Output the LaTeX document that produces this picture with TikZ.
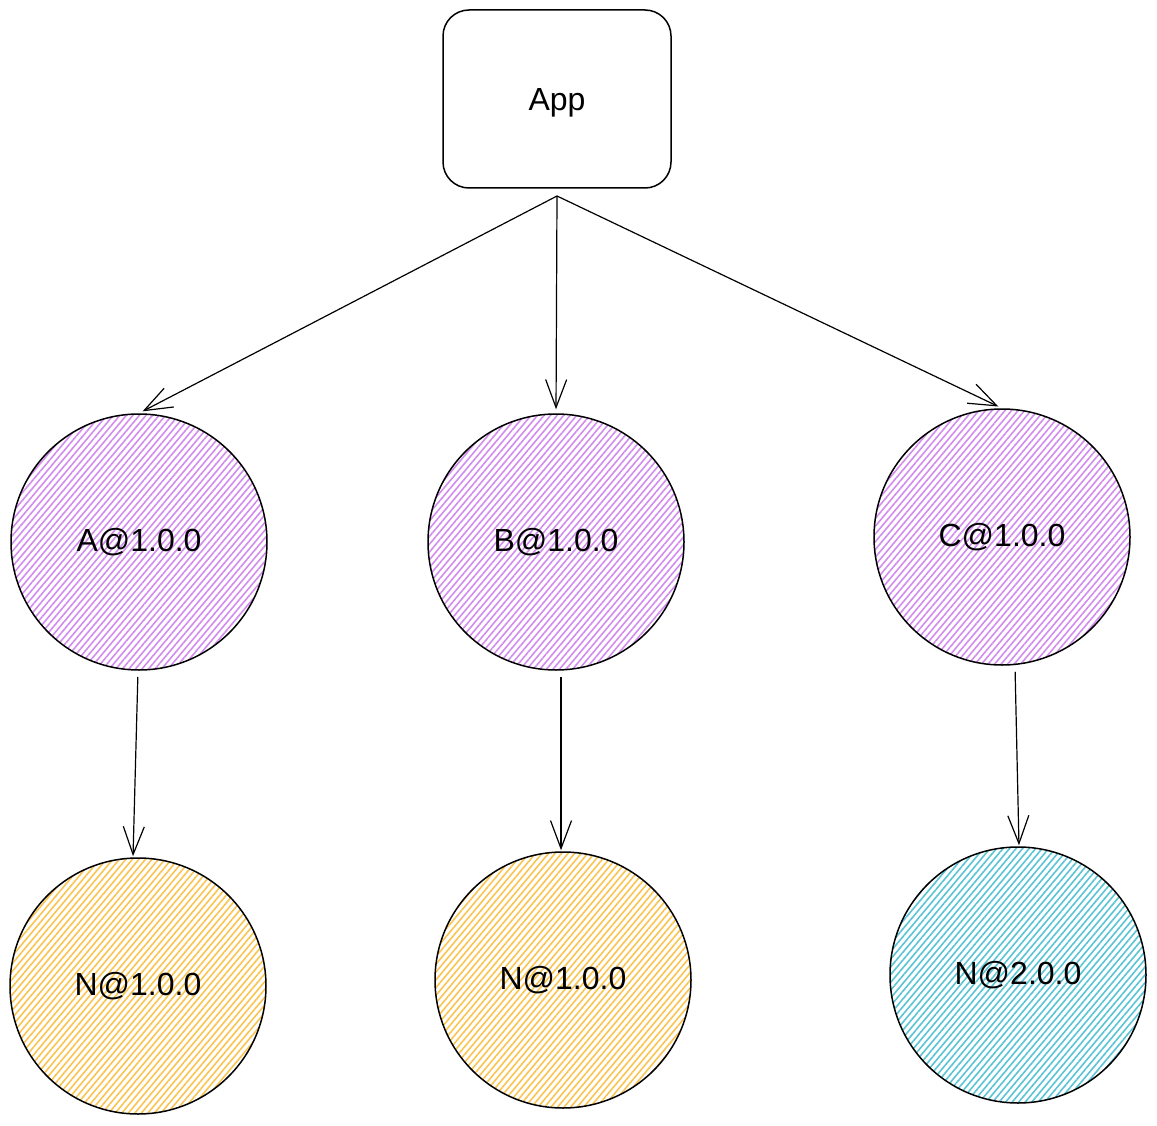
\documentclass[tikz,border=0pt]{standalone}
\usepackage{fontspec}
\setmainfont{Liberation Sans}
\usetikzlibrary{arrows.meta,patterns.meta}
\definecolor{hachpurple}{RGB}{210,140,238}
\definecolor{hachyellow}{RGB}{250,196,80}
\definecolor{hachcyan}{RGB}{90,195,212}

\begin{document}
\begin{tikzpicture}[x=1pt, y=-1pt,
        box/.style={draw, line width=1.5pt, rounded corners=26pt, minimum width=228pt, minimum height=178pt, text depth=0pt},
        pkg/.style={circle, draw, line width=1.5pt, minimum size=256pt, pattern={Lines[angle=50,distance=5pt,line width=1.6pt]}, pattern color=#1},
        dep/.style={-{Straight Barb[length=28pt,width=21pt]}, line width=1.2pt},
        font=\fontsize{32}{36}\selectfont]
        \useasboundingbox (0,0) rectangle (1157,1126);
        \node[box] (app) at (557,99) {App};
        \coordinate (fork) at (557,196);
        \foreach \n/\t/\x/\y/\u/\v/\s/\c/\p/\q in {a/A/139/542/138/986/1.0.0/hachyellow/-1/-5, b/B/556/542/563/980/1.0.0/hachyellow/5/-2, c/C/1002/537/1018/975/2.0.0/hachcyan/13/1} {
            \node[pkg=hachpurple] (\n) at (\x, \y) {\t@1.0.0};
            \node[pkg=\c] (n\n) at (\u, \v) {N@\s};
            \draw[dep, shorten >=4pt] (fork) -- (\n.north);
            \draw[dep, shorten <=6pt, shorten >=1pt] ([xshift=\p pt]\n.south) -- ([xshift=\q pt]n\n.north);
        }
    \end{tikzpicture}
\end{document}
